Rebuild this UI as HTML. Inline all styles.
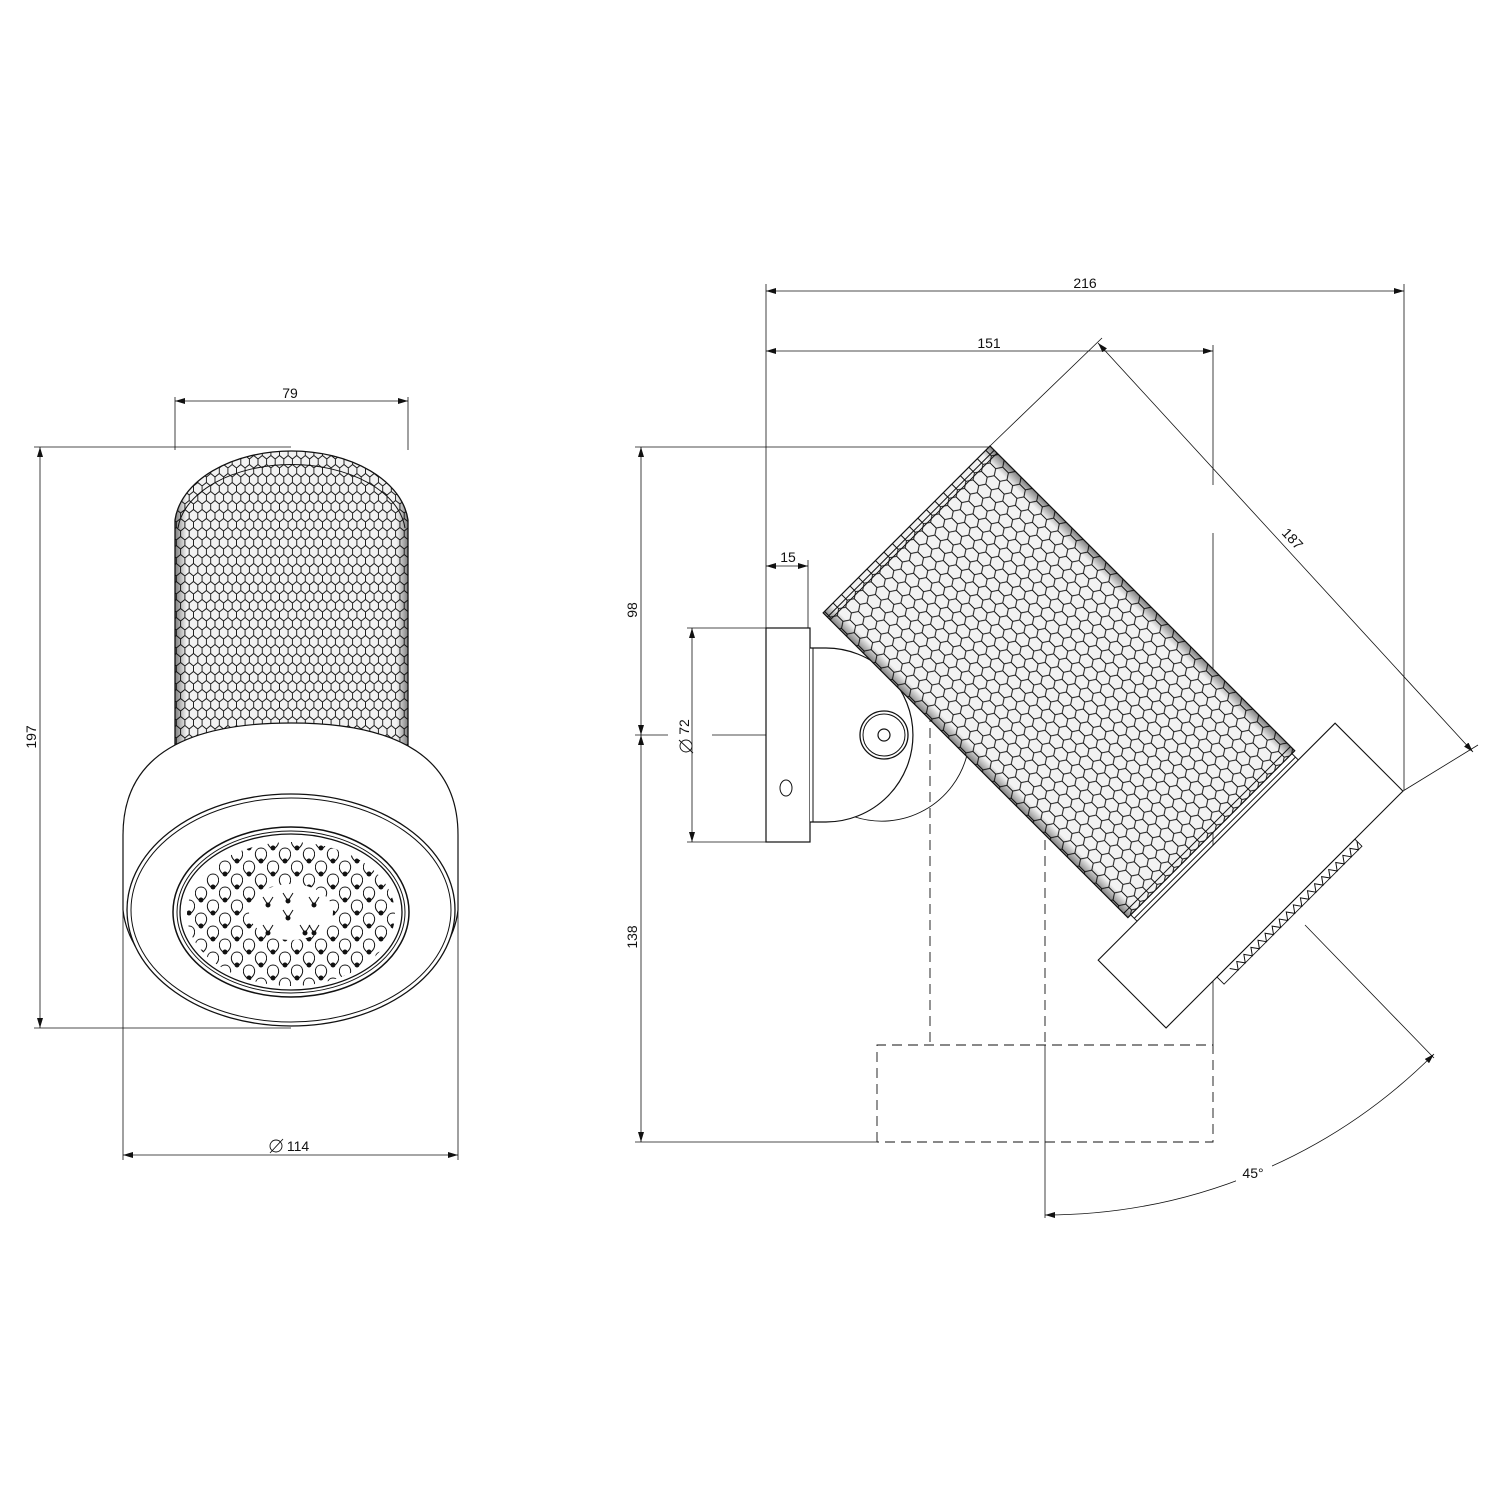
<!DOCTYPE html>
<html><head><meta charset="utf-8"><style>
html,body{margin:0;padding:0;background:#fff;}
svg{display:block;}
text{font-family:"Liberation Sans",sans-serif;font-size:14px;fill:#111;}
</style></head><body>
<svg width="1493" height="1493" viewBox="0 0 1493 1493" xmlns="http://www.w3.org/2000/svg">
<defs>
<pattern id="hex" patternUnits="userSpaceOnUse" width="8.6" height="18">
<path d="M4.3,0V5.5L0,9M4.3,5.5L8.6,9M0,9V14.5M8.6,9V14.5M0,14.5L4.3,18M8.6,14.5L4.3,18" stroke="#111" stroke-width="0.9" fill="none"/>
</pattern>
<pattern id="hex2" patternUnits="userSpaceOnUse" width="12" height="24">
<path d="M6,0V8L0,12M6,8L12,12M0,12V20M12,12V20M0,20L6,24M12,20L6,24" stroke="#111" stroke-width="1" fill="none"/>
</pattern>
<pattern id="nz" patternUnits="userSpaceOnUse" width="24" height="26" x="3" y="2">
<g stroke="#111" stroke-width="1" fill="none">
<path d="M4,14C-2,9 0,1 6,1C12,1 14,9 8,14"/><circle cx="6" cy="14" r="2" fill="#111"/>
<path d="M16,27C10,22 12,14 18,14C24,14 26,22 20,27"/><circle cx="18" cy="27" r="2" fill="#111"/>
<path d="M16,1C10,-4 12,-12 18,-12C24,-12 26,-4 20,1"/><circle cx="18" cy="1" r="2" fill="#111"/>
</g>
</pattern>
<clipPath id="nc"><ellipse cx="291" cy="914" rx="104" ry="72"/></clipPath>
<marker id="a" viewBox="0 0 10 6" refX="10" refY="3" markerWidth="10" markerHeight="6" orient="auto-start-reverse" markerUnits="userSpaceOnUse"><path d="M0,0L10,3L0,6z" fill="#111"/></marker>
<linearGradient id="edge" x1="0" x2="1" y1="0" y2="0">
<stop offset="0" stop-color="#000" stop-opacity="0.5"/><stop offset="0.05" stop-color="#000" stop-opacity="0.05"/><stop offset="0.95" stop-color="#000" stop-opacity="0.05"/><stop offset="1" stop-color="#000" stop-opacity="0.5"/>
</linearGradient>
</defs>
<g stroke="#111" fill="none" stroke-width="1">

<!-- LEFT VIEW -->
<path d="M175,760V520A117,76 0 0 1 408,520V760Z" fill="url(#hex)" stroke="none"/>
<path d="M175,760V520A117,76 0 0 1 408,520V760Z" fill="url(#edge)" stroke="none"/>
<path d="M175,760V520A117,76 0 0 1 408,520V760" stroke-width="1.3"/>
<path d="M178,528A114,70 0 0 1 405,528"/>
<path d="M123,910V835Q123,723 291,723Q458,723 458,835V910A168,118 0 0 1 123,910Z" fill="#fff" stroke-width="1.2"/>
<ellipse cx="291" cy="910" rx="164" ry="116" fill="#fff" stroke-width="1.3"/>
<ellipse cx="291" cy="910" rx="160" ry="112"/>
<ellipse cx="291" cy="912" rx="118" ry="85" stroke-width="1.5"/>
<ellipse cx="291" cy="912" rx="114" ry="81"/>
<ellipse cx="291" cy="912" rx="111" ry="78" stroke-width="1.3"/>
<rect x="180" y="835" width="222" height="160" fill="url(#nz)" stroke="none" clip-path="url(#nc)"/>
<ellipse cx="291" cy="912" rx="42" ry="28" fill="#fff" stroke="none"/>
<g stroke-width="1">
<path d="M263,897L268,905L273,897M309,897L314,905L319,897M283,910L288,918L293,910M300,925L305,933L310,925M263,925L268,933L273,925M309,925L314,933L319,925M283,893L288,901L293,893"/>
<circle cx="268" cy="905" r="2" fill="#111"/><circle cx="314" cy="905" r="2" fill="#111"/><circle cx="288" cy="918" r="2" fill="#111"/><circle cx="268" cy="933" r="2" fill="#111"/><circle cx="314" cy="933" r="2" fill="#111"/><circle cx="305" cy="933" r="2" fill="#111"/><circle cx="288" cy="901" r="2" fill="#111"/>
</g>

<!-- left dims -->
<line x1="175" y1="397" x2="175" y2="450" stroke-width="0.8"/>
<line x1="408" y1="397" x2="408" y2="450" stroke-width="0.8"/>
<line x1="175" y1="401" x2="408" y2="401" stroke-width="0.8" marker-start="url(#a)" marker-end="url(#a)"/>
<line x1="34" y1="447" x2="291" y2="447" stroke-width="0.8"/>
<line x1="34" y1="1028" x2="291" y2="1028" stroke-width="0.8"/>
<line x1="40" y1="447" x2="40" y2="1028" stroke-width="0.8" marker-start="url(#a)" marker-end="url(#a)"/>
<line x1="123" y1="830" x2="123" y2="1160" stroke-width="0.8"/>
<line x1="458" y1="830" x2="458" y2="1160" stroke-width="0.8"/>
<line x1="123" y1="1155" x2="458" y2="1155" stroke-width="0.8" marker-start="url(#a)" marker-end="url(#a)"/>
<circle cx="276" cy="1146" r="6" stroke-width="0.9"/><line x1="270" y1="1153" x2="283" y2="1139" stroke-width="0.9"/>

<!-- RIGHT VIEW dims/ext -->
<line x1="766" y1="284" x2="766" y2="628" stroke-width="0.8"/>
<line x1="1404" y1="284" x2="1404" y2="790" stroke-width="0.8"/>
<line x1="766" y1="291" x2="1404" y2="291" stroke-width="0.8" marker-start="url(#a)" marker-end="url(#a)"/>
<line x1="1213" y1="345" x2="1213" y2="485" stroke-width="0.8"/>
<line x1="1213" y1="533" x2="1213" y2="1045" stroke-width="0.8"/>
<line x1="766" y1="351" x2="1213" y2="351" stroke-width="0.8" marker-start="url(#a)" marker-end="url(#a)"/>
<line x1="808" y1="560" x2="808" y2="628" stroke-width="0.8"/>
<line x1="766" y1="566" x2="808" y2="566" stroke-width="0.8" marker-start="url(#a)" marker-end="url(#a)"/>
<line x1="635" y1="447" x2="990" y2="447" stroke-width="0.8"/>
<line x1="635" y1="1142" x2="877" y2="1142" stroke-width="0.8"/>
<line x1="641" y1="447" x2="641" y2="735" stroke-width="0.8" marker-start="url(#a)" marker-end="url(#a)"/>
<line x1="641" y1="735" x2="641" y2="1142" stroke-width="0.8" marker-start="url(#a)" marker-end="url(#a)"/>
<line x1="635" y1="735" x2="668" y2="735" stroke-width="0.8"/>
<line x1="712" y1="735" x2="880" y2="735" stroke-width="0.8"/>
<line x1="687" y1="628" x2="766" y2="628" stroke-width="0.8"/>
<line x1="687" y1="842" x2="766" y2="842" stroke-width="0.8"/>
<line x1="692" y1="628" x2="692" y2="842" stroke-width="0.8" marker-start="url(#a)" marker-end="url(#a)"/>
<circle cx="686" cy="746" r="6" stroke-width="0.9"/><line x1="679" y1="740" x2="693" y2="753" stroke-width="0.9"/>

<!-- dashed -->
<g stroke-dasharray="10,6" stroke-width="0.9">
<line x1="930" y1="600" x2="930" y2="1045"/>
<line x1="1045" y1="600" x2="1045" y2="1045"/>
<path d="M877,1142V1045H1213V1142H877"/>
</g>
<line x1="1045" y1="1045" x2="1045" y2="1218" stroke-width="0.8"/>

<!-- wall plate & bracket -->
<rect x="766" y="628" width="44" height="214" fill="#fff" stroke-width="1.2"/>
<ellipse cx="786" cy="788" rx="6" ry="8"/>
<path d="M855,817A88,88 0 0 0 967,755" stroke-width="0.9"/>
<path d="M810,648H826A87,87 0 0 1 826,822H810" fill="#fff" stroke-width="1.2"/>
<line x1="813" y1="648" x2="813" y2="822"/>
<circle cx="884" cy="735" r="24" stroke-width="1.3"/>
<circle cx="884" cy="735" r="21"/>
<circle cx="884" cy="735" r="6" stroke-width="1.2"/>

<!-- rotated cylinder -->
<g transform="translate(990,446) rotate(-45)">
<rect x="-236" y="0" width="236" height="431" fill="#fff" stroke="none"/>
<rect x="-236" y="0" width="236" height="431" fill="url(#hex2)" stroke="none"/>
<rect x="-236" y="0" width="236" height="431" fill="url(#edge)" stroke="none"/>
<rect x="-236" y="0" width="236" height="431" stroke-width="1.2"/>
<line x1="-236" y1="6" x2="0" y2="6"/>
<line x1="-236" y1="10" x2="0" y2="10"/>
<line x1="-236" y1="425" x2="0" y2="425"/>
<line x1="-232" y1="431" x2="-232" y2="440"/>
<line x1="-4" y1="431" x2="-4" y2="440"/>
<line x1="-232" y1="436" x2="-4" y2="436"/>
<rect x="-287" y="440" width="335" height="96" fill="#fff" stroke-width="1.1"/>
<path d="M-200,539 L-195,546 L-190,539 L-185,546 L-180,539 L-175,546 L-170,539 L-165,546 L-160,539 L-155,546 L-150,539 L-145,546 L-140,539 L-135,546 L-130,539 L-125,546 L-120,539 L-115,546 L-110,539 L-105,546 L-100,539 L-95,546 L-90,539 L-85,546 L-80,539 L-75,546 L-70,539 L-65,546 L-60,539 L-55,546 L-50,539 L-45,546 L-40,539 L-35,546 L-30,539 L-25,546 L-20,539" stroke-width="1"/>
<rect x="-215" y="536" width="195" height="10" stroke-width="0.9"/>
</g>

<!-- 187 dim -->
<line x1="990" y1="446" x2="1102" y2="338" stroke-width="0.8"/>
<line x1="1403" y1="791" x2="1478" y2="745" stroke-width="0.8"/>
<line x1="1098" y1="343" x2="1473" y2="752" stroke-width="0.8" marker-start="url(#a)" marker-end="url(#a)"/>

<!-- 45 angle -->
<line x1="1305" y1="925" x2="1434" y2="1058" stroke-width="0.8"/>
<path d="M1045,1215A550,550 0 0 0 1434,1054" stroke-width="0.8" marker-start="url(#a)" marker-end="url(#a)"/>
<rect x="1236" y="1160" width="36" height="22" fill="#fff" stroke="none"/>
</g>

<text x="290" y="398" text-anchor="middle">79</text>
<text x="298" y="1151" text-anchor="middle">114</text>
<text transform="translate(36,737) rotate(-90)" text-anchor="middle">197</text>
<text x="1085" y="288" text-anchor="middle">216</text>
<text x="989" y="348" text-anchor="middle">151</text>
<text x="788" y="562" text-anchor="middle">15</text>
<text transform="translate(637,610) rotate(-90)" text-anchor="middle">98</text>
<text transform="translate(637,937) rotate(-90)" text-anchor="middle">138</text>
<text transform="translate(689,727) rotate(-90)" text-anchor="middle">72</text>
<text transform="translate(1289,542) rotate(47)" text-anchor="middle">187</text>
<text x="1253" y="1178" text-anchor="middle">45°</text>
</svg>
</body></html>
